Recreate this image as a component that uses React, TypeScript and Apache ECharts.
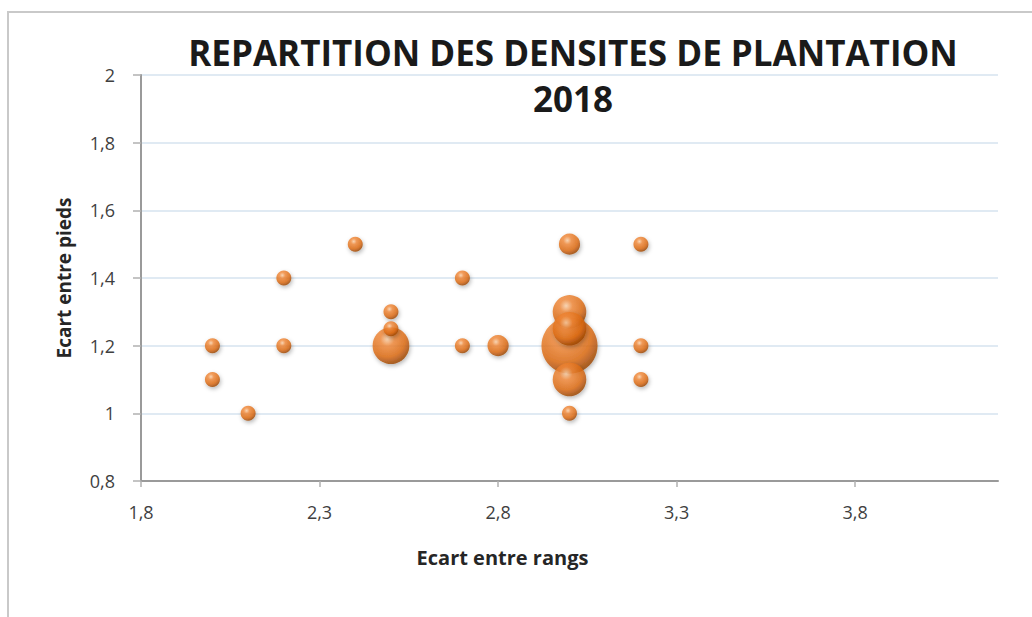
import React, { useEffect, useRef } from "react";
import * as echarts from "echarts";

const titleText = "REPARTITION DES DENSITES DE PLANTATION\n2018";
const xAxisName = "Ecart entre rangs";
const yAxisName = "Ecart entre pieds";
const xTicks = [1.8, 2.3, 2.8, 3.3, 3.8];

const ecartRangs = [2.0, 2.0, 2.1, 2.2, 2.2, 2.4, 2.5, 2.5, 2.5, 2.7, 2.7, 2.8, 3.0, 3.0, 3.0, 3.0, 3.0, 3.0, 3.2, 3.2, 3.2];
const ecartPieds = [1.2, 1.1, 1.0, 1.4, 1.2, 1.5, 1.3, 1.25, 1.2, 1.4, 1.2, 1.2, 1.5, 1.3, 1.25, 1.2, 1.1, 1.0, 1.5, 1.2, 1.1];
const effectifs = [1, 1, 1, 1, 1, 1, 1, 1, 6, 1, 1, 2, 2, 5, 5, 14, 5, 1, 1, 1, 1];

const fmt = (v: number) => String(+Number(v).toFixed(1)).replace(".", ",");

export default function App() {
  const ref = useRef<HTMLDivElement>(null);
  useEffect(() => {
    if (!ref.current) return;
    const chart = echarts.init(ref.current, null, { renderer: "svg" });
    const data = ecartRangs
      .map((x, i) => [x, ecartPieds[i], effectifs[i]])
      .sort((a, b) => b[2] - a[2]);
    const font = "Open Sans, Lato, sans-serif";
    chart.setOption({
      animation: false,
      backgroundColor: "#ffffff",
      title: {
        text: titleText,
        left: 568,
        top: 24,
        textAlign: "center",
        textStyle: {
          fontFamily: font,
          fontWeight: "bold",
          fontSize: 35,
          lineHeight: 46,
          color: "#1a1a1a",
        },
      },
      graphic: [
        {
          type: "rect",
          shape: { x: 8, y: 12, width: 1200, height: 800 },
          style: { fill: "none", stroke: "#c9c9c9", lineWidth: 2 },
          silent: true,
        },
      ],
      grid: { left: 141, right: 34, top: 75, bottom: 136 },
      xAxis: {
        type: "value",
        min: 1.8,
        max: 4.2,
        interval: 0.5,
        name: xAxisName,
        nameLocation: "middle",
        nameGap: 66,
        nameTextStyle: {
          fontFamily: font,
          fontWeight: "bold",
          fontSize: 20,
          color: "#262626",
          padding: [0, 134, 0, 0],
        },
        axisLine: { show: true, lineStyle: { color: "#9a9a9a", width: 2 } },
        axisTick: { show: true, length: 6, lineStyle: { color: "#b0b0b0", width: 1.5 }, customValues: xTicks },
        axisLabel: {
          customValues: xTicks,
          formatter: fmt,
          fontFamily: font,
          fontSize: 18,
          color: "#3f3f3f",
          margin: 22,
        },
        splitLine: { show: false },
      },
      yAxis: {
        type: "value",
        min: 0.8,
        max: 2,
        interval: 0.2,
        name: yAxisName,
        nameLocation: "middle",
        nameGap: 68,
        nameTextStyle: {
          fontFamily: font,
          fontWeight: "bold",
          fontSize: 19,
          color: "#262626",
        },
        axisLine: { show: true, lineStyle: { color: "#9a9a9a", width: 2 } },
        axisTick: { show: true, length: 8, lineStyle: { color: "#b0b0b0", width: 1.5 } },
        axisLabel: {
          formatter: fmt,
          fontFamily: font,
          fontSize: 18,
          color: "#3f3f3f",
          margin: 26,
        },
        splitLine: { show: true, lineStyle: { color: "#d6e3ef", width: 1.5 } },
      },
      series: [
        {
          type: "scatter",
          data,
          symbolSize: (val: number[]) => 15 * Math.sqrt(val[2]),
          itemStyle: {
            color: new echarts.graphic.RadialGradient(0.4, 0.32, 0.68, [
              { offset: 0, color: "#fdd3ab" },
              { offset: 0.28, color: "#f38a3a" },
              { offset: 0.72, color: "#dd690f" },
              { offset: 1, color: "#9c4504" },
            ]),
            shadowBlur: 4,
            shadowColor: "rgba(0,0,0,0.35)",
            shadowOffsetX: 1,
            shadowOffsetY: 2,
          },
        },
      ],
    });
    return () => chart.dispose();
  }, []);
  return (
    <div
      ref={ref}
      style={{ position: "fixed", left: 0, top: 0, width: 1032, height: 617 }}
    />
  );
}
